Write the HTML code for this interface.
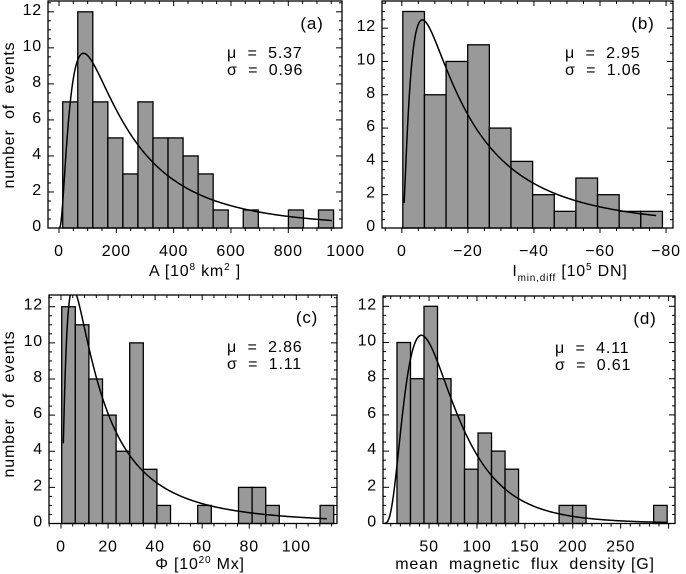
<!DOCTYPE html>
<html><head><meta charset="utf-8">
<style>
html,body{margin:0;padding:0;background:#fff;}
svg{display:block;font-family:"Liberation Sans",sans-serif;}
text{letter-spacing:0.8px;white-space:pre;}
</style></head>
<body>
<svg id="fig" width="686" height="574" viewBox="0 0 686 574"></svg>
<script>
// ---- data ----
const countsA = [7,12,7,5,3,7,5,5,4,3,1,0,1,0,0,1,0,1];
const countsB = [13,8,10,11,6,4,2,1,3,2,1,1];
const countsC = [12,11,8,6,4,10,3,1,0,0,1,0,0,2,2,1,0,0,0,1];
const countsD = [10,8,12,8,6,3,5,4,3,0,0,0,1,1,0,0,0,0,0,1];
const binStartA = 12.9, binWidthA = 52.5;
const binStartB = -0.3, binWidthB = -6.55;
const binStartC = 0.3, binWidthC = 5.78;
const binStartD = 16.5, binWidthD = 14.1;
const fitA = [5.37, 0.96], fitB = [2.95, 1.06], fitC = [2.86, 1.11], fitD = [4.11, 0.61];
const peakA = 9.7, peakB = 12.5, peakC = 13.0, peakD = 10.4;
const ticksA = [0,200,400,600,800,1000];
const ticksB = [0,-20,-40,-60,-80];
const ticksC = [0,20,40,60,80,100];
const ticksD = [50,100,150,200,250];
const yTicks = [0,2,4,6,8,10,12];

const NS = "http://www.w3.org/2000/svg";
const svg = document.getElementById('fig');
function mk(tag, attrs, parent){
  const e = document.createElementNS(NS, tag);
  for (const k in attrs) e.setAttribute(k, attrs[k]);
  (parent||svg).appendChild(e); return e;
}
function lognorm(x, mu, s){ if(x<=0) return 0; const z=(Math.log(x)-mu)/s; return Math.exp(-0.5*z*z)/(x*s*Math.sqrt(2*Math.PI)); }

function panel(p){
  const g = mk('g', {});
  
  
  const X = v => p.L + (v - p.xmin) / (p.xmax - p.xmin) * (p.R - p.L);
  const Y = v => p.B - (v - p.ymin) / (p.ymax - p.ymin) * (p.B - p.T);
  const cid = 'clip-' + p.id;
  const cp = mk('clipPath', {id: cid}, g);
  mk('rect', {x:p.L, y:p.T, width:p.R-p.L, height:p.B-p.T}, cp);
  p.counts.forEach((c, i) => {
    if (c <= 0) return;
    const x0 = X(p.bs + i*p.bw), x1 = X(p.bs + (i+1)*p.bw);
    const r = mk('rect', {x:Math.min(x0,x1), y:Y(c), width:Math.abs(x1-x0), height:p.B-Y(c), fill:'#999', stroke:'#000', 'stroke-width':1.3}, g);
    
    
  });
  const mu = p.fit[0], s = p.fit[1];
  const mode = Math.exp(mu - s*s);
  const scale = p.peak / lognorm(mode, mu, s);
  let d = '';
  const n = 300;
  for (let k = 0; k <= n; k++) {
    const a = p.c0 + (p.c1 - p.c0) * k / n;
    const v = lognorm(a, mu, s) * scale;
    d += (k ? 'L' : 'M') + X(p.sign*a).toFixed(2) + ',' + Y(v).toFixed(2);
  }
  const cv = mk('path', {d:d, fill:'none', stroke:'#000', 'stroke-width':1.5, 'clip-path':'url(#'+cid+')'}, g);
  
  
  const box = mk('rect', {x:p.L, y:p.T, width:p.R-p.L, height:p.B-p.T, fill:'none', stroke:'#000', 'stroke-width':1.3}, g);
  
  
  const xa = mk('g', {}, g);
  
  
  const lo = Math.min(p.xmin, p.xmax), hi = Math.max(p.xmin, p.xmax);
  for (let v = Math.ceil(lo/p.minor)*p.minor; v <= hi; v += p.minor) {
    const x = X(v);
    const major = Math.abs(v/p.major - Math.round(v/p.major)) < 1e-6;
    const len = major ? 5 : 3;
    mk('line', {x1:x, x2:x, y1:p.B, y2:p.B+len, stroke:'#000', 'stroke-width':1}, xa);
    mk('line', {x1:x, x2:x, y1:p.T, y2:p.T+len, stroke:'#000', 'stroke-width':1}, xa);
  }
  p.ticks.forEach(v => {
    const t = mk('text', {x:X(v), y:p.B+28, 'font-size':16, 'text-anchor':'middle', fill:'#000'}, xa);
    t.textContent = (v < 0 ? '\u2212' + (-v) : String(v));
    
    
  });
  const ya = mk('g', {}, g);
  
  
  for (let v = 0; v <= p.ymax; v += 0.5) {
    const y = Y(v);
    const major = (v % 2 === 0);
    const len = major ? 6 : 3;
    mk('line', {x1:p.L, x2:p.L+len, y1:y, y2:y, stroke:'#000', 'stroke-width':1}, ya);
    mk('line', {x1:p.R, x2:p.R-len, y1:y, y2:y, stroke:'#000', 'stroke-width':1}, ya);
  }
  yTicks.forEach(v => {
    const t = mk('text', {x:p.L-6, y:Y(v)+3, 'font-size':16, 'text-anchor':'end', fill:'#000'}, ya);
    t.textContent = String(v);
    
    
  });
  const pl = mk('text', {x:p.R-30, y:p.T+28, 'font-size':17, 'text-anchor':'middle', fill:'#000'}, g);
  pl.textContent = '(' + p.id + ')';
  
  
  const m1 = mk('text', {x:p.sx, y:p.T+57, 'font-size':16, fill:'#000'}, g);
  m1.textContent = '\u03bc  =  ' + mu.toFixed(2);
  
  
  const m2 = mk('text', {x:p.sx, y:p.T+74, 'font-size':16, fill:'#000'}, g);
  m2.textContent = '\u03c3  =  ' + s.toFixed(2);
  
  
  return g;
}

panel({id:'a', L:48, R:342, T:1, B:228, xmin:-38.4, xmax:987.4, ymin:0, ymax:12.6,
  counts:countsA, bs:binStartA, bw:binWidthA, fit:fitA, peak:peakA, c0:3, c1:952, sign:1,
  ticks:ticksA, major:200, minor:50, sx:227});
panel({id:'b', L:382, R:673, T:1, B:228, xmin:6, xmax:-82.1, ymin:0, ymax:13.63,
  counts:countsB, bs:binStartB, bw:binWidthB, fit:fitB, peak:peakB, c0:0.7, c1:77, sign:-1,
  ticks:ticksB, major:20, minor:5, sx:565});
panel({id:'c', L:49, R:337, T:295, B:523.5, xmin:-5.1, xmax:117.3, ymin:0, ymax:12.65,
  counts:countsC, bs:binStartC, bw:binWidthC, fit:fitC, peak:peakC, c0:1, c1:113, sign:1,
  ticks:ticksC, major:20, minor:5, sx:227});
panel({id:'d', L:383, R:675, T:296, B:523.5, xmin:1.9, xmax:306.7, ymin:0, ymax:12.57,
  counts:countsD, bs:binStartD, bw:binWidthD, fit:fitD, peak:peakD, c0:3, c1:299, sign:1,
  ticks:ticksD, major:50, minor:10, sx:555});

function title(txt, x, y, rot, name){
  const t = mk('text', {x:x, y:y, 'font-size':16, 'text-anchor':'middle', fill:'#000'});
  if (rot) t.setAttribute('transform', 'rotate(-90 ' + x + ' ' + y + ')');
  t.innerHTML = txt;
  
  
}
title('number  of  events', 14, 115, true, 'y-axis-title-a');
title('number  of  events', 14, 404, true, 'y-axis-title-c');
title('A [10<tspan font-size="10" dy="-6">8</tspan><tspan dy="6"> km</tspan><tspan font-size="10" dy="-6">2</tspan><tspan dy="6"> ]</tspan>', 195, 276, false, 'x-axis-title-a');
title('I<tspan font-size="10" dy="5">min,diff</tspan><tspan dy="-5"> [10</tspan><tspan font-size="10" dy="-6">5</tspan><tspan dy="6"> DN]</tspan>', 570, 276, false, 'x-axis-title-b');
title('\u03a6 [10<tspan font-size="10" dy="-6">20</tspan><tspan dy="6"> Mx]</tspan>', 200, 569, false, 'x-axis-title-c');
title('mean  magnetic  flux  density [G]', 525, 569, false, 'x-axis-title-d');
</script>
</body></html>
